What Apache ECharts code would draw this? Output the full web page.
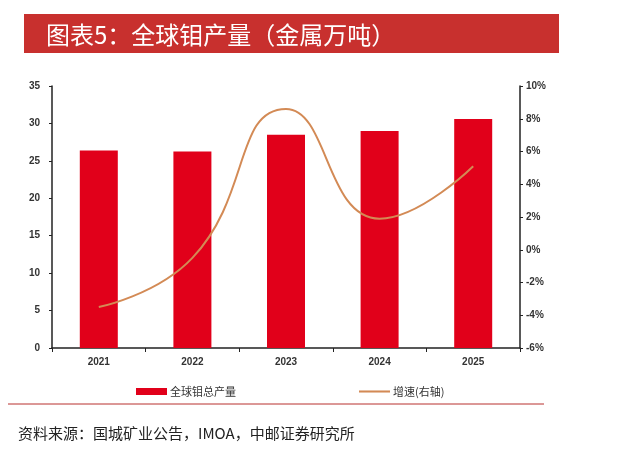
<!DOCTYPE html>
<html>
<head>
<meta charset="utf-8">
<script src="https://cdn.jsdelivr.net/npm/echarts@6/dist/echarts.min.js"></script>
<style>
  html, body { margin: 0; padding: 0; background: #fff; }
  #chart { width: 633px; height: 453px; }
</style>
</head>
<body>
<div id="chart"></div>
<script>
// data
var years = ['2021', '2022', '2023', '2024', '2025'];
var output = [26.4, 26.25, 28.5, 29.0, 30.6];     // 全球钼总产量, 万吨
var growth = [-3.5, -0.5, 8.6, 1.9, 5.1];         // 增速, %
var leftTicks = { min: 0, max: 35, interval: 5 };
var rightTicks = { min: -6, max: 10, interval: 2 };

var cjk = '"Noto Sans CJK SC", "Microsoft YaHei", sans-serif';
var axisFont = { color: '#333', fontSize: 10, fontWeight: 'bold', fontFamily: 'Liberation Sans, Arial, sans-serif' };

var myChart = echarts.init(document.getElementById('chart'));

myChart.setOption({
    animation: false,
    backgroundColor: '#fff',
    title: {
        text: '图表5：全球钼产量（金属万吨）',
        left: 41,
        top: 18,
        textStyle: { color: '#fff', fontSize: 24, fontWeight: 'normal', fontFamily: cjk }
    },
    graphic: [
        { type: 'rect', z: -1, shape: { x: 24, y: 14, width: 535, height: 39 }, style: { fill: '#c8302e' } },
        { type: 'line', shape: { x1: 8, y1: 404, x2: 544, y2: 404 }, style: { stroke: '#b8312f', lineWidth: 1 } },
        { type: 'text', left: 18, top: 426, style: { text: '资料来源：国城矿业公告，IMOA，中邮证券研究所', fill: '#222', fontSize: 15, fontFamily: cjk } }
    ],
    legend: {
        left: 131,
        top: 381,
        itemGap: 123,
        itemWidth: 31,
        itemHeight: 7,
        textStyle: { color: '#333', fontSize: 11, fontFamily: cjk, padding: [0, 0, 0, -2] },
        data: [
            { name: '全球钼总产量', icon: 'rect' },
            { name: '增速(右轴)', icon: 'path://M0,0L60,0L60,4L0,4Z' }
        ]
    },
    grid: { left: 52, right: 113, top: 86, bottom: 105 },
    xAxis: {
        type: 'category',
        data: years,
        axisLine: { lineStyle: { color: '#222', width: 1.5 } },
        axisTick: { show: true, length: 4, lineStyle: { color: '#222' } },
        axisLabel: Object.assign({ margin: 9 }, axisFont)
    },
    yAxis: [
        {
            type: 'value',
            min: leftTicks.min, max: leftTicks.max, interval: leftTicks.interval,
            splitLine: { show: false },
            axisLine: { show: true, lineStyle: { color: '#222', width: 1.5 } },
            axisTick: { show: true, length: 3, lineStyle: { color: '#222' } },
            axisLabel: Object.assign({ margin: 12 }, axisFont)
        },
        {
            type: 'value',
            position: 'right',
            min: rightTicks.min, max: rightTicks.max, interval: rightTicks.interval,
            splitLine: { show: false },
            axisLine: { show: true, lineStyle: { color: '#222', width: 1.5 } },
            axisTick: { show: true, length: 3, lineStyle: { color: '#222' } },
            axisLabel: Object.assign({ margin: 6, formatter: '{value}%' }, axisFont)
        }
    ],
    series: [
        {
            name: '全球钼总产量',
            type: 'bar',
            data: output,
            barWidth: 38,
            itemStyle: { color: '#e1001a' }
        },
        {
            name: '增速(右轴)',
            type: 'line',
            yAxisIndex: 1,
            data: growth,
            smooth: 0.5,
            symbol: 'none',
            lineStyle: { color: '#d38a55', width: 2 },
            itemStyle: { color: '#d38a55' }
        }
    ]
});
</script>
</body>
</html>
